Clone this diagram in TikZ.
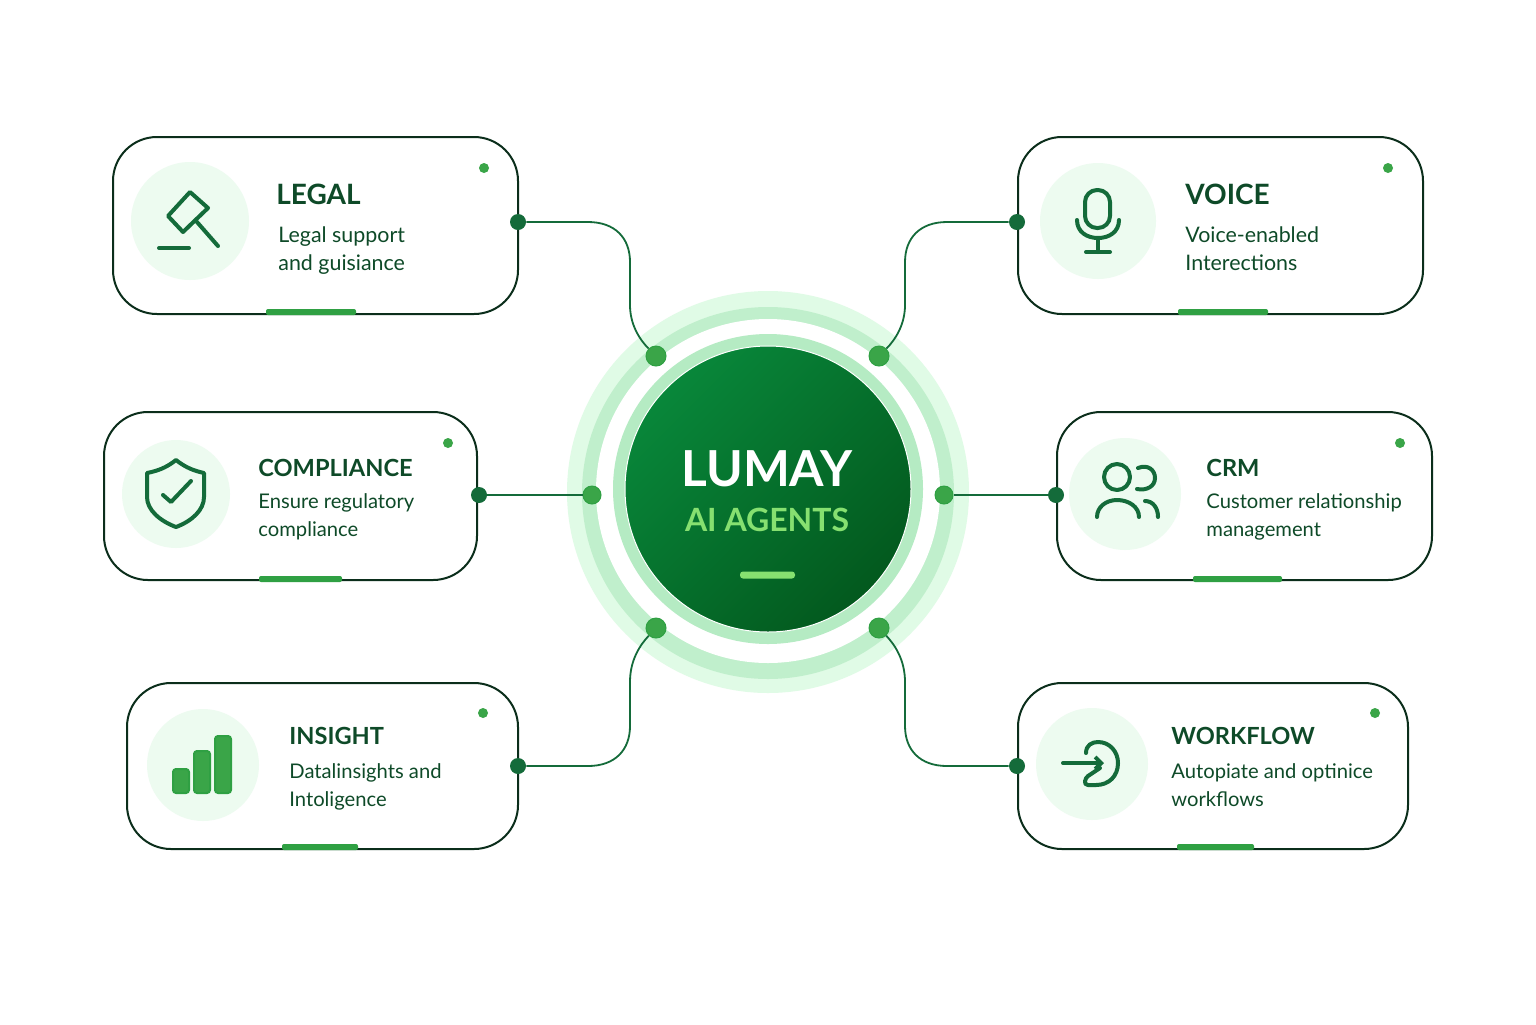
\documentclass[tikz,border=0pt]{standalone}
\usepackage{xcolor}
\usepackage{fontspec}
\setmainfont{Lato}
\usepackage{tikz}
\usetikzlibrary{positioning,arrows.meta}
\definecolor{inkdark}{HTML}{0B2E1B}
\definecolor{inkgreen}{HTML}{0E4A28}
\definecolor{icongreen}{HTML}{146B3A}
\definecolor{dotgreen}{HTML}{3AA548}
\definecolor{tabgreen}{HTML}{2FA043}
\definecolor{blobgreen}{HTML}{EDFBF0}
\definecolor{limegreen}{HTML}{86E070}
\definecolor{halogreen}{HTML}{E0FBE6}
\definecolor{bandgreen}{HTML}{C0EFCC}
\definecolor{rimgreen}{HTML}{B5EBC3}
\definecolor{corelight}{HTML}{08873A}
\definecolor{coredark}{HTML}{03591E}

\begin{document}
\begin{tikzpicture}[
  x=0.5pt, y=-0.5pt,
  card/.style={draw=inkdark, line width=1pt, fill=white, rounded corners=22pt, inner sep=0pt},
  ring/.style={circle, inner sep=0pt},
  blob/.style={circle, fill=blobgreen, inner sep=0pt},
  titletext/.style={anchor=base west, inner sep=0pt, text=inkgreen, font=\fontsize{11.8pt}{15pt}\selectfont\bfseries},
  bigtitle/.style={titletext, font=\fontsize{14pt}{15pt}\selectfont\bfseries},
  bodytext/.style={anchor=north west, inner sep=0pt, align=left, text=inkgreen, font=\fontsize{10.1pt}{14pt}\selectfont},
  bigbody/.style={bodytext, font=\fontsize{10.7pt}{14pt}\selectfont},
  wire/.style={draw=icongreen, line width=0.9pt},
  port/.style={circle, fill=icongreen, minimum size=8pt, inner sep=0pt},
  ringdot/.style={circle, fill=dotgreen, draw=tabgreen, line width=0.5pt, minimum size=10pt, inner sep=0pt},
  statusdot/.style={circle, fill=dotgreen, minimum size=5pt, inner sep=0pt},
  tab/.style={fill=tabgreen, rounded corners=1pt, inner sep=0pt, minimum height=3pt},
  icon/.style={draw=icongreen, line width=2pt, line cap=round, line join=round},
  bar/.style={draw=tabgreen, fill=dotgreen, line width=1pt, rounded corners=1.5pt}
]
\useasboundingbox[fill=white] (0,0) rectangle (1536,1024);

\node[ring, fill=halogreen, minimum size=201pt] (halo) at (768,492) {};
\node[ring, fill=bandgreen, minimum size=186pt] (band) at (768,493) {};
\node[ring, fill=white, minimum size=172pt] (gap) at (768,491) {};
\node[ring, fill=rimgreen, minimum size=155pt] (rim) at (768,489) {};
\node[ring, draw=white, line width=0.5pt, left color=corelight, right color=coredark, shading angle=45, minimum size=143pt] (core) at (768,489) {};

\node[text=white, anchor=base, inner sep=0pt, font=\fontsize{24.8pt}{26pt}\selectfont\bfseries] (brand) at (767,486) {LUMAY};
\node[text=limegreen, anchor=base, inner sep=0pt, font=\fontsize{16pt}{18pt}\selectfont\bfseries] (agents) at (767,531) {AI AGENTS};
\node[fill=limegreen, rounded corners=1.5pt, minimum width=27.5pt, minimum height=3.5pt, inner sep=0pt] (dash) at (767.5,575) {};

\node[ringdot] (legaldot) at (656,356) {};
\node[ringdot] (voicedot) at (879,356) {};
\node[ringdot, minimum size=9pt] (compdot) at (592,495) {};
\node[ringdot, minimum size=9pt] (crmdot) at (944,495) {};
\node[ringdot] (insightdot) at (656,628) {};
\node[ringdot] (flowdot) at (879,628) {};

\node[card, minimum width=202.5pt, minimum height=88.5pt] (legal) at (315.5,225.5) {};
\node[card, minimum width=186.5pt, minimum height=84pt] (compliance) at (290.5,496) {};
\node[card, minimum width=195.5pt, minimum height=83pt] (insight) at (322.5,766) {};
\node[card, minimum width=202.5pt, minimum height=88.5pt] (voice) at (1220.5,225.5) {};
\node[card, minimum width=187.5pt, minimum height=84pt] (crm) at (1244.5,496) {};
\node[card, minimum width=195pt, minimum height=83pt] (workflow) at (1213,766) {};

\node[port] (legalport) at (518,222) {};
\node[port] (compport) at (479,495) {};
\node[port] (insightport) at (518,766) {};
\node[port] (voiceport) at (1017,222) {};
\node[port] (crmport) at (1056,495) {};
\node[port] (flowport) at (1017,766) {};

\draw[wire] (legalport) -- (588,222) .. controls (615,222) and (630,238) .. (630,262) -- (630,305) .. controls (630,325) and (640,340) .. (legaldot);
\draw[wire] (voiceport) -- (947,222) .. controls (920,222) and (905,238) .. (905,262) -- (905,305) .. controls (905,325) and (895,340) .. (voicedot);
\draw[wire] (compport) -- (compdot);
\draw[wire] (crmport) -- (crmdot);
\draw[wire] (insightport) -- (588,766) .. controls (615,766) and (630,750) .. (630,726) -- (630,682) .. controls (630,660) and (640,645) .. (insightdot);
\draw[wire] (flowport) -- (947,766) .. controls (920,766) and (905,750) .. (905,726) -- (905,682) .. controls (905,660) and (895,645) .. (flowdot);

\node[statusdot] (legalstatus) at (484,168) {};
\node[statusdot] (compstatus) at (448,443) {};
\node[statusdot] (insightstatus) at (483,713) {};
\node[statusdot] (voicestatus) at (1388,168) {};
\node[statusdot] (crmstatus) at (1400,443) {};
\node[statusdot] (flowstatus) at (1375,713) {};

\node[tab, minimum width=45pt] (legaltab) at (311,312) {};
\node[tab, minimum width=41.5pt] (comptab) at (300.5,579) {};
\node[tab, minimum width=38pt] (insighttab) at (320,847) {};
\node[tab, minimum width=45pt] (voicetab) at (1223,312) {};
\node[tab, minimum width=44.5pt] (crmtab) at (1237.5,579) {};
\node[tab, minimum width=38.5pt] (flowtab) at (1215.5,847) {};

\node[blob, minimum size=59pt] (legalblob) at (190,221) {};
\node[blob, minimum size=54pt] (compblob) at (176,494) {};
\node[blob, minimum size=56pt] (insightblob) at (203,765) {};
\node[blob, minimum size=58pt] (voiceblob) at (1098,221) {};
\node[blob, minimum size=56pt] (crmblob) at (1125,494) {};
\node[blob, minimum size=56pt] (flowblob) at (1092,764) {};

\node[bigtitle] (legalhead) at (276,204) {LEGAL};
\node[bigbody, below=11pt of legalhead.base west, anchor=north west, xshift=1pt] (legalbody) {Legal support\\and guisiance};
\node[titletext] (comphead) at (258,476) {COMPLIANCE};
\node[bodytext, below=8.5pt of comphead.base west, anchor=north west] (compbody) {Ensure regulatory\\compliance};
\node[titletext] (insighthead) at (289,744) {INSIGHT};
\node[bodytext, below=9.5pt of insighthead.base west, anchor=north west] (insightbody) {Datalinsights and\\Intoligence};
\node[bigtitle] (voicehead) at (1185,204) {VOICE};
\node[bigbody, below=11pt of voicehead.base west, anchor=north west] (voicebody) {Voice-enabled\\Interections};
\node[titletext] (crmhead) at (1206,476) {CRM};
\node[bodytext, below=8.5pt of crmhead.base west, anchor=north west] (crmbody) {Customer relationship\\management};
\node[titletext] (flowhead) at (1171,744) {WORKFLOW};
\node[bodytext, below=9.5pt of flowhead.base west, anchor=north west] (flowbody) {Autopiate and optinice\\workflows};

\draw[icon] (190,192) -- (208,208) -- (183,232) -- (168,216) -- cycle;
\draw[icon] (197,222) -- (218,246);
\draw[icon] (159,248) -- (189,248);

\draw[icon] (176,460) .. controls (166,468) and (157,471) .. (147,473) -- (147,497) .. controls (147,510) and (160,521) .. (176,527) .. controls (192,521) and (204,510) .. (204,497) -- (204,473) .. controls (195,471) and (186,468) .. (176,460) -- cycle;
\draw[icon] (163,495) -- (171,502) -- (191,481);

\draw[bar] (173,769) rectangle (189,793);
\draw[bar] (194,751) rectangle (210,793);
\draw[bar] (215,736) rectangle (231,793);

\draw[icon, rounded corners=6pt] (1085,190) rectangle (1110,228);
\draw[icon] (1077,220) .. controls (1077,232) and (1087,238) .. (1098,238) .. controls (1109,238) and (1119,232) .. (1119,220);
\draw[icon] (1098,238) -- (1098,252);
\draw[icon] (1086,252) -- (1110,252);

\draw[icon] (1117,477) circle (6.5pt);
\draw[icon] (1138,468) .. controls (1148,464) and (1155,470) .. (1155,478) .. controls (1155,486) and (1147,491) .. (1137,489);
\draw[icon] (1097,517) .. controls (1097,507) and (1106,500) .. (1117,500) .. controls (1129,500) and (1139,507) .. (1139,517);
\draw[icon] (1145,501) .. controls (1153,501) and (1158,508) .. (1158,517);

\draw[icon, -{Straight Barb[length=3pt,width=6pt]}] (1063,763) -- (1104,763);
\draw[icon] (1086,753) .. controls (1086,745) and (1092,742) .. (1098,742) .. controls (1110,742) and (1118,752) .. (1118,763) .. controls (1118,776) and (1109,785) .. (1096,785) -- (1088,785) .. controls (1083,785) and (1085,778) .. (1088,776) -- (1100,768);

\end{tikzpicture}
\end{document}
